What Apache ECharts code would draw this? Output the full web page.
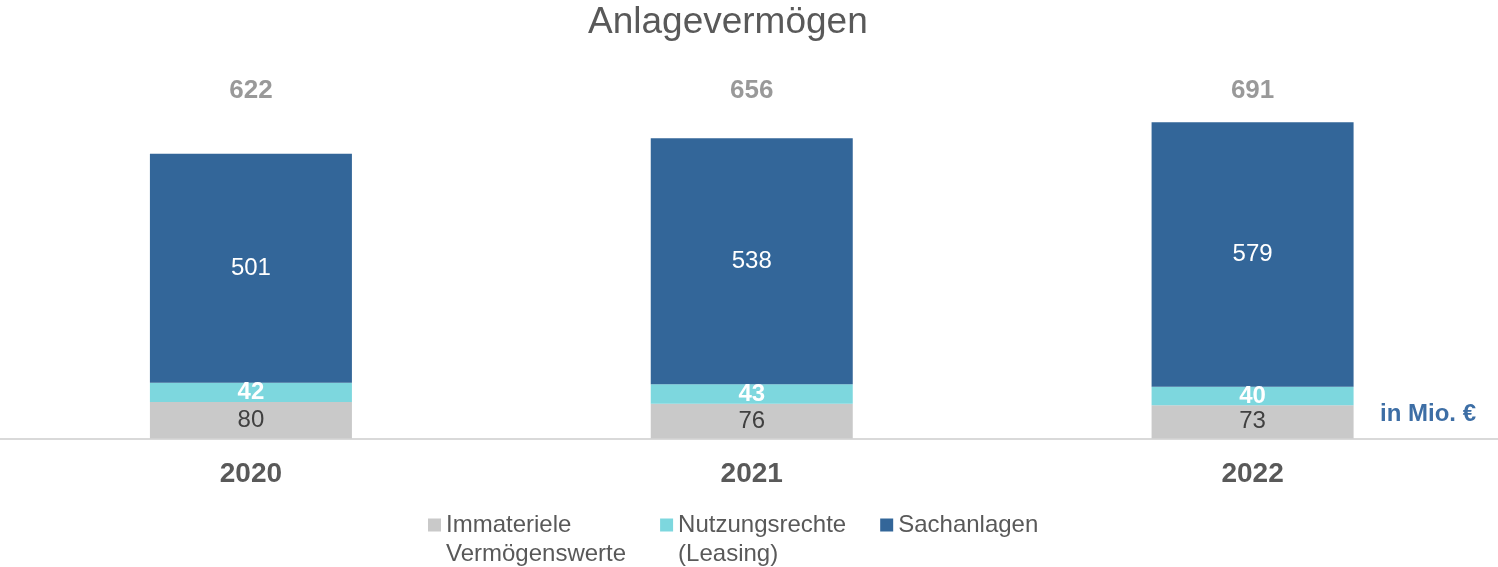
<!DOCTYPE html>
<html>
<head>
<meta charset="utf-8">
<script src="https://cdn.jsdelivr.net/npm/echarts@6/dist/echarts.min.js"></script>
<style>
  html, body { margin: 0; padding: 0; background: #fff; }
  #chart { width: 1498px; height: 567px; }
</style>
</head>
<body>
<div id="chart"></div>
<script>
// data
const years = ['2020', '2021', '2022'];
const immateriell = [80, 76, 73];
const leasing = [42, 43, 40];
const sachanlagen = [501, 538, 579];
const totals = [622, 656, 691];

const seriesNames = ['Immateriele\nVermögenswerte', 'Nutzungsrechte\n(Leasing)', 'Sachanlagen'];
const colors = ['#c9c9c9', '#7dd7de', '#336699'];

// height (in axis units) where the total labels sit
const totalLevel = 760;

const font = 'Liberation Sans, Arial, sans-serif';

// legend marker: square level with the first text line
const iconTop = 'path://M0,0h13v13h-13zM13,42';

const chart = echarts.init(document.getElementById('chart'), null, { renderer: 'canvas' });

function segLabel(color, bold) {
  return {
    show: true,
    position: 'inside',
    color: color,
    fontSize: 24,
    fontWeight: bold ? 'bold' : 'normal',
    fontFamily: font
  };
}

const option = {
  animation: false,
  backgroundColor: '#fff',
  title: {
    text: 'Anlagevermögen',
    left: 588,
    top: 4,
    padding: 0,
    textStyle: { fontSize: 37, fontWeight: 'normal', color: '#595959', fontFamily: font }
  },
  legend: {
    data: seriesNames,
    top: 510.5,
    left: 428,
    padding: 0,
    itemWidth: 13,
    itemHeight: 42,
    itemGap: 34,
    icon: iconTop,
    align: 'left',
    // every entry gets two lines so the markers line up
    formatter: n => (n.indexOf('\n') >= 0 ? n : n + '\n '),
    textStyle: { fontSize: 24, color: '#595959', fontFamily: font, lineHeight: 29 }
  },
  grid: { left: 0.5, top: 73, right: -5, bottom: 128.5, containLabel: false, outerBoundsMode: 'none' },
  xAxis: {
    type: 'category',
    data: years,
    axisLine: { lineStyle: { color: '#d9d9d9', width: 2 } },
    axisTick: { show: false },
    axisLabel: { fontSize: 28, fontWeight: 'bold', color: '#595959', fontFamily: font, margin: 22 }
  },
  yAxis: {
    type: 'value',
    min: 0,
    max: 800,
    show: false,
    splitLine: { show: false }
  },
  series: [
    {
      name: seriesNames[0],
      type: 'bar',
      stack: 'total',
      barWidth: 202,
      data: immateriell,
      itemStyle: { color: colors[0] },
      label: segLabel('#404040', false)
    },
    {
      name: seriesNames[1],
      type: 'bar',
      stack: 'total',
      data: leasing,
      itemStyle: { color: colors[1] },
      label: segLabel('#ffffff', true)
    },
    {
      name: seriesNames[2],
      type: 'bar',
      stack: 'total',
      data: sachanlagen,
      itemStyle: { color: colors[2] },
      label: segLabel('#ffffff', false)
    },
    {
      name: 'Summe',
      type: 'scatter',
      symbolSize: 0,
      data: years.map(() => totalLevel),
      silent: true,
      label: {
        show: true,
        position: 'inside',
        formatter: p => totals[p.dataIndex],
        fontSize: 26,
        fontWeight: 'bold',
        color: '#7f7f7f',
        fontFamily: font
      }
    }
  ],
  graphic: [
    {
      type: 'text',
      left: 1380,
      top: 402,
      style: { text: 'in Mio. €', fontSize: 24, fontWeight: 'bold', fill: '#3d6ea5', fontFamily: font }
    }
  ]
};

chart.setOption(option);
</script>
</body>
</html>
